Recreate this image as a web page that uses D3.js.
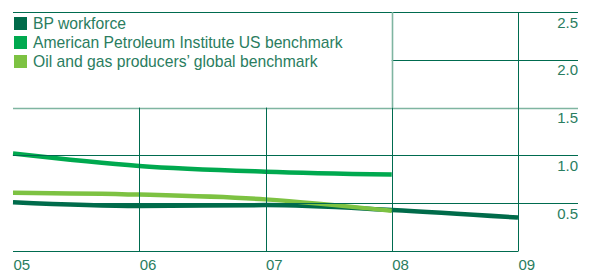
<!DOCTYPE html>
<html>
<head>
<meta charset="utf-8">
<script src="https://cdn.jsdelivr.net/npm/d3@7"></script>
<style>
  html, body { margin: 0; padding: 0; background: #fff; }
  svg { display: block; }
  text { font-family: "Liberation Sans", Arial, sans-serif; fill: #2a7d60; }
</style>
</head>
<body>
<svg id="chart" width="596" height="274"></svg>
<script>
// years on the x axis
var years = ["05", "06", "07", "08", "09"];
var yTicks = [0.5, 1.0, 1.5, 2.0, 2.5];

// values
var bpWorkforce = [0.51, 0.47, 0.48, 0.43, 0.35];
var apiBenchmark = [1.02, 0.89, 0.83, 0.80];
var ogpBenchmark = [0.61, 0.59, 0.54, 0.42];

var seriesNames = ["BP workforce", "American Petroleum Institute US benchmark", "Oil and gas producers\u2019 global benchmark"];
var seriesColors = ["#006b4a", "#00a94f", "#7dc242"];

var width = 596, height = 274;
var margin = { top: 12, right: 18, bottom: 23, left: 13 };
var gridColor = "#006b4f";

var svg = d3.select("#chart");

var x = d3.scalePoint()
    .domain(years)
    .range([margin.left, 518]);

var y = d3.scaleLinear()
    .domain([0, 2.5])
    .range([height - margin.bottom, margin.top]);

var px = v => Math.round(v) + 0.5;

// series lines
var line = d3.line()
    .x((d, i) => x(years[i]))
    .y(d => y(d))
    .curve(d3.curveMonotoneX);

var allSeries = [bpWorkforce, apiBenchmark, ogpBenchmark];
svg.append("g")
    .selectAll("path")
    .data(allSeries)
    .join("path")
    .attr("fill", "none")
    .attr("stroke", (d, i) => seriesColors[i])
    .attr("stroke-width", 4.5)
    .attr("d", line);

// grid
var grid = svg.append("g").attr("stroke-width", 1).attr("fill", "none");

// horizontal lines: 2.0 only to the right of the legend, baseline stops at the last year
[0, 0.5, 1.0, 1.5, 2.0, 2.5].forEach(v => {
    var x0 = v === 2.0 ? x("08") : margin.left;
    var x1 = v === 0 ? x("09") : width - margin.right;
    grid.append("line")
        .attr("x1", x0).attr("x2", x1)
        .attr("y1", px(y(v))).attr("y2", px(y(v)))
        .attr("stroke", v === 1.5 ? "#7fb5a1" : gridColor)
        .attr("stroke-width", v === 1.5 ? 1.6 : 1);
});

// vertical lines: 06/07 from 1.5 down, 08/09 from the top
years.slice(1).forEach(yr => {
    var top = (yr === "08" || yr === "09") ? 2.5 : 1.5;
    if (yr === "08") {
        grid.append("line")
            .attr("x1", px(x(yr))).attr("x2", px(x(yr)))
            .attr("y1", y(2.5)).attr("y2", y(1.5))
            .attr("stroke", "#7fb5a1").attr("stroke-width", 1.6);
        top = 1.5;
    }
    grid.append("line")
        .attr("x1", px(x(yr))).attr("x2", px(x(yr)))
        .attr("y1", y(top)).attr("y2", px(y(0)))
        .attr("stroke", gridColor);
});

// y labels sit under their gridline, right aligned
var yAxis = g => g
    .attr("transform", `translate(${width - margin.right},0)`)
    .call(d3.axisLeft(y).tickValues(yTicks).tickFormat(d3.format(".1f")).tickSize(0).tickPadding(0))
    .call(g => g.select(".domain").remove())
    .call(g => g.selectAll("text")
        .attr("dy", null)
        .attr("y", 15)
        .attr("font-size", "15px")
        .attr("fill", "#2a7d60"));

// x labels left aligned on the year lines
var xAxis = g => g
    .attr("transform", `translate(0,${height - margin.bottom})`)
    .call(d3.axisBottom(x).tickSize(0).tickPadding(0))
    .call(g => g.select(".domain").remove())
    .call(g => g.selectAll("text")
        .attr("dy", null)
        .attr("y", 19)
        .attr("text-anchor", "start")
        .attr("font-size", "15px")
        .attr("fill", "#2a7d60"));

svg.append("g").call(yAxis);
svg.append("g").call(xAxis);

// legend
var legend = svg.append("g")
    .selectAll("g")
    .data(seriesNames)
    .join("g")
    .attr("transform", (d, i) => `translate(14,${17 + i * 19})`);

legend.append("rect")
    .attr("width", 13).attr("height", 13)
    .attr("fill", (d, i) => seriesColors[i]);

legend.append("text")
    .attr("x", 19)
    .attr("y", 11.5)
    .attr("font-size", "15.7px")
    .text(d => d);
</script>
</body>
</html>
